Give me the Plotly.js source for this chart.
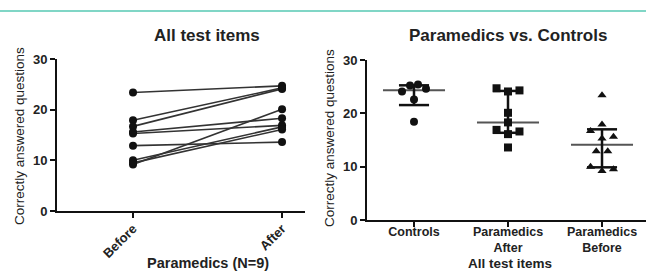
<!DOCTYPE html>
<html>
<head>
<meta charset="utf-8">
<script src="https://cdn.plot.ly/plotly-3.0.1.min.js"></script>
<style>
  html, body { margin: 0; padding: 0; background: #fff; }
  #wrap { position: relative; width: 646px; height: 271px; overflow: hidden; }
  #topline { position: absolute; left: 0; top: 10px; width: 646px; height: 2px; background: #80d6c6; z-index: 5; }
  #chart { width: 646px; height: 271px; }
</style>
</head>
<body>
<div id="wrap">
  <div id="topline"></div>
  <div id="chart"></div>
</div>
<script>
// ---- Data ----
const pairCategories = ['Before', 'After'];
const paramedicsBeforePaired = [23.4, 17.9, 16.7, 15.6, 15.3, 12.9, 10.0, 9.5, 9.2];
const paramedicsAfterPaired  = [24.7, 24.3, 24.1, 18.3, 16.9, 13.6, 16.6, 16.1, 20.1];

const groupCategories = ['Controls', 'Paramedics<br>After', 'Paramedics<br>Before'];
const controls = [25.4, 25.2, 24.6, 24.1, 22.6, 18.4];
const paramedicsAfter = [24.7, 24.3, 24.1, 20.1, 18.3, 16.9, 16.6, 16.1, 13.6];
const paramedicsBefore = [23.4, 17.9, 16.7, 15.6, 15.3, 12.9, 12.9, 10.0, 9.5, 9.2];

const yTicks = [0, 10, 20, 30];

// ---- Helpers ----
function quantile(arr, p) {
  const s = arr.slice().sort((a, b) => a - b);
  const n = s.length;
  let pos = p * (n + 1);
  if (pos < 1) pos = 1;
  if (pos > n) pos = n;
  const lo = Math.floor(pos), hi = Math.ceil(pos);
  return s[lo - 1] + (pos - lo) * (s[hi - 1] - s[lo - 1]);
}
function median(arr) {
  const s = arr.slice().sort((a, b) => a - b);
  const n = s.length;
  return n % 2 ? s[(n - 1) / 2] : (s[n / 2 - 1] + s[n / 2]) / 2;
}
// simple row-based swarm layout
function swarm(values, center, step) {
  const idx = values.map((v, i) => i).sort((a, b) => values[b] - values[a]);
  const rows = [];
  let cur = [];
  idx.forEach((i, k) => {
    if (k > 0 && values[idx[k - 1]] - values[i] > 1.15) { rows.push(cur); cur = []; }
    cur.push(i);
  });
  if (cur.length) rows.push(cur);
  const xs = new Array(values.length);
  rows.forEach(row => {
    const asc = row.slice().sort((a, b) => values[a] - values[b]);
    const n = asc.length;
    asc.forEach((i, k) => {
      let slot;
      if (n % 2 === 1) {
        slot = k === 0 ? 0 : (k % 2 === 1 ? 1 : -1) * Math.ceil(k / 2);
      } else {
        const mag = (n - 1) / 2 - Math.floor(k / 2);
        slot = (k % 2 === 0 ? -1 : 1) * mag;
      }
      xs[i] = center + slot * step;
    });
  });
  return xs;
}

// ---- Left chart: paired lines ----
const pairX = [], pairY = [];
paramedicsBeforePaired.forEach((b, i) => {
  pairX.push(0, 1, null);
  pairY.push(b, paramedicsAfterPaired[i], null);
});

const traces = [];
traces.push({
  x: pairX, y: pairY, xaxis: 'x', yaxis: 'y',
  mode: 'lines+markers', type: 'scatter', connectgaps: false,
  line: { color: '#333', width: 1.6 },
  marker: { size: 8, color: '#111', symbol: 'circle' },
  hoverinfo: 'skip', showlegend: false
});

// ---- Right chart: scatter with median & IQR ----
const groups = [controls, paramedicsAfter, paramedicsBefore];
const symbols = ['circle', 'square', 'triangle-up'];
const sizes = [8, 8, 8];
const steps = [0.085, 0.122, 0.122];

const medX = [], medY = [], errX = [], errY = [];
groups.forEach((g, gi) => {
  const m = median(g), q1 = quantile(g, 0.25), q3 = quantile(g, 0.75);
  medX.push(gi - 0.33, gi + 0.33, null); medY.push(m, m, null);
  errX.push(gi, gi, null); errY.push(q1, q3, null);
  errX.push(gi - 0.16, gi + 0.16, null); errY.push(q1, q1, null);
  errX.push(gi - 0.16, gi + 0.16, null); errY.push(q3, q3, null);
});
traces.push({
  x: medX, y: medY, xaxis: 'x2', yaxis: 'y2', mode: 'lines', type: 'scatter',
  line: { color: '#555', width: 2 }, hoverinfo: 'skip', showlegend: false
});
traces.push({
  x: errX, y: errY, xaxis: 'x2', yaxis: 'y2', mode: 'lines', type: 'scatter',
  line: { color: '#111', width: 2.5 }, hoverinfo: 'skip', showlegend: false
});
groups.forEach((g, gi) => {
  traces.push({
    x: swarm(g, gi, steps[gi]), y: g, xaxis: 'x2', yaxis: 'y2',
    mode: 'markers', type: 'scatter',
    marker: { size: sizes[gi], color: '#111', symbol: symbols[gi] },
    hoverinfo: 'skip', showlegend: false
  });
});

// ---- Layout ----
const W = 646, H = 271;
const px = v => v / W;
const py = v => 1 - v / H;
const FONT = 'Liberation Sans, Arial, sans-serif';
const tickFont = { family: FONT, size: 13, color: '#222', weight: 700 };

const axisCommon = {
  showline: true, linecolor: '#111', linewidth: 2,
  ticks: 'outside', ticklen: 5, tickwidth: 2, tickcolor: '#111',
  showgrid: false, zeroline: false, tickfont: tickFont, fixedrange: true
};

const layout = {
  width: W, height: H,
  margin: { l: 0, r: 0, t: 0, b: 0 },
  paper_bgcolor: '#fff', plot_bgcolor: '#fff',
  showlegend: false,
  xaxis: Object.assign({}, axisCommon, {
    domain: [px(57), px(305)], anchor: 'y',
    range: [-0.51, 1.154],
    tickvals: [0, 1], ticktext: pairCategories, tickangle: -45,
    ticklabelstandoff: -2
  }),
  yaxis: Object.assign({}, axisCommon, {
    domain: [py(211), py(59)], anchor: 'x',
    range: [0, 30], tickvals: yTicks
  }),
  xaxis2: Object.assign({}, axisCommon, {
    domain: [px(367), px(646)], anchor: 'y2',
    range: [-0.5, 2.468],
    tickvals: [0, 1, 2], ticktext: groupCategories, tickangle: 0,
    tickfont: { family: FONT, size: 12.5, color: '#222', weight: 700 },
    ticklabelstandoff: -6
  }),
  yaxis2: Object.assign({}, axisCommon, {
    domain: [py(220), py(60)], anchor: 'x2',
    range: [0, 30], tickvals: yTicks
  }),
  annotations: [
    { text: 'All test items', x: px(207), y: py(35), xref: 'paper', yref: 'paper',
      showarrow: false, xanchor: 'center', yanchor: 'middle',
      font: { family: FONT, size: 17, color: '#222', weight: 700 } },
    { text: 'Paramedics vs. Controls', x: px(508), y: py(35), xref: 'paper', yref: 'paper',
      showarrow: false, xanchor: 'center', yanchor: 'middle',
      font: { family: FONT, size: 17, color: '#222', weight: 700 } },
    { text: 'Correctly answered questions', x: px(19), y: py(136), xref: 'paper', yref: 'paper',
      showarrow: false, textangle: -90, xanchor: 'center', yanchor: 'middle',
      font: { family: FONT, size: 13.5, color: '#222' } },
    { text: 'Correctly answered questions', x: px(329), y: py(138), xref: 'paper', yref: 'paper',
      showarrow: false, textangle: -90, xanchor: 'center', yanchor: 'middle',
      font: { family: FONT, size: 13.5, color: '#222' } },
    { text: 'Paramedics (N=9)', x: px(208), y: py(263), xref: 'paper', yref: 'paper',
      showarrow: false, xanchor: 'center', yanchor: 'middle',
      font: { family: FONT, size: 14.5, color: '#222', weight: 700 } },
    { text: 'All test items', x: px(510), y: py(263), xref: 'paper', yref: 'paper',
      showarrow: false, xanchor: 'center', yanchor: 'middle',
      font: { family: FONT, size: 13.5, color: '#222', weight: 700 } }
  ]
};

Plotly.newPlot('chart', traces, layout, { staticPlot: true, displayModeBar: false });
</script>
</body>
</html>
